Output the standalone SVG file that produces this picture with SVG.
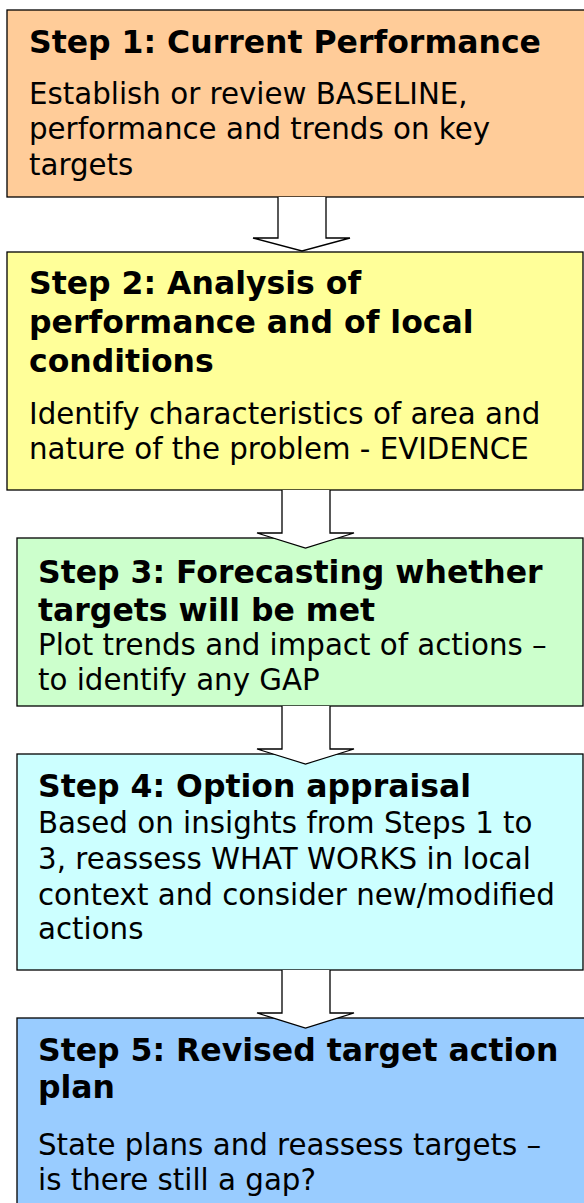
<svg xmlns="http://www.w3.org/2000/svg" width="584" height="1203" viewBox="0 0 584 1203">
  <style>
    .box { stroke: #000; stroke-width: 1.3; }
    .title { font-family: "DejaVu Sans", Verdana, sans-serif; font-weight: bold; font-size: 31.5px; fill: #000; }
    .body { font-family: "DejaVu Sans", Verdana, sans-serif; font-size: 29.3px; fill: #000; }
    .arrow { fill: #fff; stroke: #000; stroke-width: 1.3; stroke-linejoin: miter; }
  </style>
  <rect width="584" height="1203" fill="#fff"/>

  <g id="step1">
    <rect class="box" x="7" y="10" width="590" height="187" fill="#FFCC99"/>
    <text class="title" x="29" y="53">Step 1: Current Performance</text>
    <text class="body" x="29" y="104">Establish or review BASELINE,</text>
    <text class="body" x="29" y="139">performance and trends on key</text>
    <text class="body" x="29" y="175">targets</text>
  </g>

  <g id="step2">
    <rect class="box" x="7" y="252" width="576" height="238" fill="#FFFF99"/>
    <text class="title" x="29" y="294">Step 2: Analysis of</text>
    <text class="title" x="29" y="333">performance and of local</text>
    <text class="title" x="29" y="372">conditions</text>
    <text class="body" x="29" y="424">Identify characteristics of area and</text>
    <text class="body" x="29" y="459">nature of the problem - EVIDENCE</text>
  </g>

  <g id="step3">
    <rect class="box" x="17" y="538" width="566" height="168" fill="#CCFFCC"/>
    <text class="title" x="38" y="583">Step 3: Forecasting whether</text>
    <text class="title" x="38" y="621">targets will be met</text>
    <text class="body" x="38" y="655">Plot trends and impact of actions –</text>
    <text class="body" x="38" y="690">to identify any GAP</text>
  </g>

  <g id="step4">
    <rect class="box" x="17" y="754" width="566" height="216" fill="#CCFFFF"/>
    <text class="title" x="38" y="797">Step 4: Option appraisal</text>
    <text class="body" x="38" y="833">Based on insights from Steps 1 to</text>
    <text class="body" x="38" y="869">3, reassess WHAT WORKS in local</text>
    <text class="body" x="38" y="905">context and consider new/modified</text>
    <text class="body" x="38" y="939">actions</text>
  </g>

  <g id="step5">
    <rect class="box" x="17" y="1018" width="580" height="200" fill="#99CCFF"/>
    <text class="title" x="38" y="1061">Step 5: Revised target action</text>
    <text class="title" x="38" y="1098">plan</text>
    <text class="body" x="38" y="1155">State plans and reassess targets –</text>
    <text class="body" x="38" y="1190">is there still a gap?</text>
  </g>

  <!-- block arrows between consecutive steps -->
  <g id="connectors">
    <path class="arrow" d="M278,197 L278,238 L253,238 L302,251 L350,238 L326,238 L326,197"/>
    <path class="arrow" d="M282,490 L282,533 L257,533 L305.5,548 L354,533 L330,533 L330,490"/>
    <path class="arrow" d="M282,706 L282,749 L257,749 L305.5,764 L354,749 L330,749 L330,706"/>
    <path class="arrow" d="M282,970 L282,1013 L257,1013 L305.5,1028 L354,1013 L330,1013 L330,970"/>
  </g>
</svg>
